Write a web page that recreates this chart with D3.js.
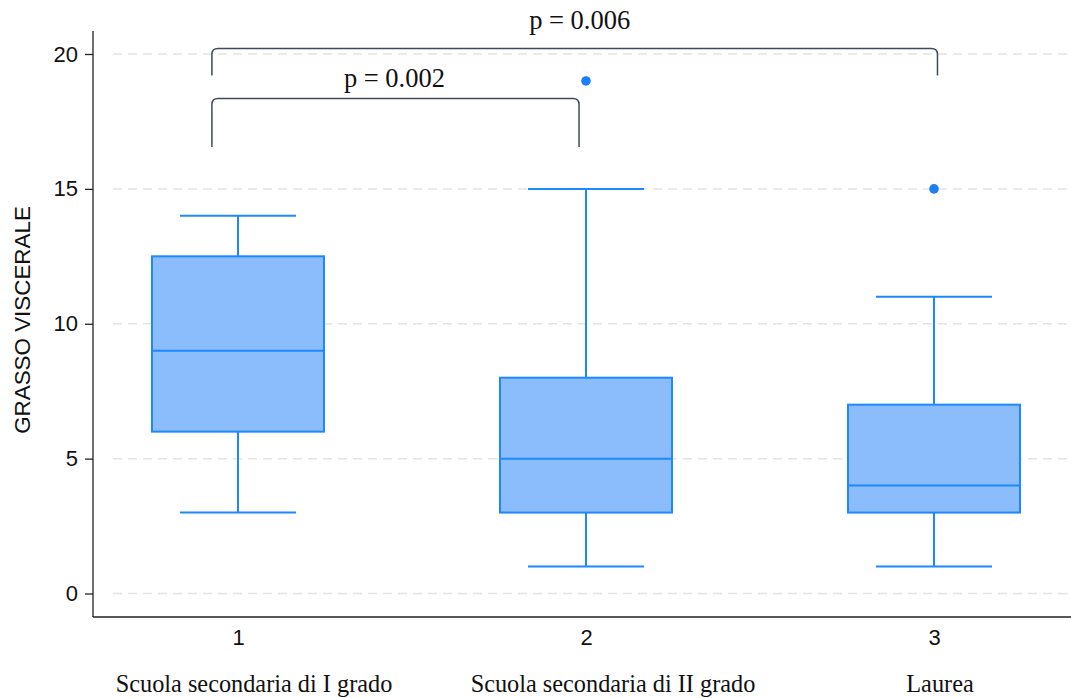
<!DOCTYPE html>
<html>
<head>
<meta charset="utf-8">
<script src="https://cdn.jsdelivr.net/npm/d3@7"></script>
<style>
  html, body { margin: 0; padding: 0; background: #ffffff; }
  svg { display: block; }
</style>
</head>
<body>
<svg id="chart" width="1071" height="698"></svg>
<script>
// Visceral fat by education level
const categories = ["1", "2", "3"];
const categoryNames = ["Scuola secondaria di I grado", "Scuola secondaria di II grado", "Laurea"];
const whiskerLow = [3, 1, 1];
const q1 = [6, 3, 3];
const median = [9, 5, 4];
const q3 = [12.5, 8, 7];
const whiskerHigh = [14, 15, 11];
const outliers = [[], [19], [15]];
const yTicks = [0, 5, 10, 15, 20];

// significance brackets: [x start, x end, leg bottom, top] in data units
const bracketSpans = [[0.925, 1.98, 16.55, 18.35], [0.925, 3.01, 19.2, 20.2]];
const pLabels = ["p = 0.002", "p = 0.006"];

const W = 1071, H = 698;
const svg = d3.select("#chart");

const x = d3.scaleLinear().domain([1, 3]).range([238, 934]);
const y = d3.scaleLinear().domain([0, 20]).range([593.5, 54]);

const axisLeftX = 93, axisBottomY = 617;
const boxHalf = 86, capHalf = 58;
const stroke = "#1e88ff", fill = "#8bbdfc";
const sans = "'Liberation Sans', Arial, Helvetica, sans-serif";
const serif = "'Liberation Serif', 'Times New Roman', serif";

// gridlines
svg.append("g")
  .selectAll("line")
  .data(yTicks)
  .join("line")
  .attr("x1", 113).attr("x2", W)
  .attr("y1", d => y(d)).attr("y2", d => y(d))
  .attr("stroke", "#e3e3e3")
  .attr("stroke-width", 1.5)
  .attr("stroke-dasharray", "9,6");

// y axis
const yAxis = d3.axisLeft(y).tickValues(yTicks).tickSize(8).tickPadding(7);
const gy = svg.append("g").attr("transform", `translate(${axisLeftX},0)`).call(yAxis);
gy.select(".domain").attr("d", `M0,31V${axisBottomY}`).attr("stroke", "#222").attr("stroke-width", 1.3);
gy.selectAll(".tick line").attr("stroke", "#222").attr("stroke-width", 1.3);
gy.selectAll(".tick text")
  .attr("font-family", sans)
  .attr("font-size", 22).attr("fill", "#111");

// x axis
const xAxis = d3.axisBottom(x).tickValues([1, 2, 3]).tickFormat((d, i) => categories[i]).tickSize(0).tickPadding(12);
const gx = svg.append("g").attr("transform", `translate(0,${axisBottomY})`).call(xAxis);
gx.select(".domain").attr("d", `M${axisLeftX},0H${W}`).attr("stroke", "#222").attr("stroke-width", 1.3);
gx.selectAll(".tick text")
  .attr("font-family", sans)
  .attr("font-size", 22).attr("fill", "#111");

// category names, nudged right of each tick
const nameNudge = [16, 27, 6];
svg.append("g")
  .selectAll("text")
  .data(categoryNames)
  .join("text")
  .attr("x", (d, i) => x(i + 1) + nameNudge[i])
  .attr("y", 692)
  .attr("text-anchor", "middle")
  .attr("font-family", serif)
  .attr("font-size", 24.3)
  .attr("fill", "#111")
  .text(d => d);

// y axis title
svg.append("text")
  .attr("transform", `translate(30,320) rotate(-90)`)
  .attr("text-anchor", "middle")
  .attr("font-family", sans)
  .attr("font-size", 22.4)
  .attr("fill", "#111")
  .text("GRASSO VISCERALE");

// boxes
const boxes = svg.append("g").selectAll("g")
  .data(categories.map((c, i) => ({ i, pos: i + 1 })))
  .join("g");

boxes.append("line")
  .attr("x1", d => x(d.pos)).attr("x2", d => x(d.pos))
  .attr("y1", d => y(whiskerHigh[d.i])).attr("y2", d => y(q3[d.i]))
  .attr("stroke", stroke).attr("stroke-width", 2);
boxes.append("line")
  .attr("x1", d => x(d.pos)).attr("x2", d => x(d.pos))
  .attr("y1", d => y(q1[d.i])).attr("y2", d => y(whiskerLow[d.i]))
  .attr("stroke", stroke).attr("stroke-width", 2);
boxes.append("line")
  .attr("x1", d => x(d.pos) - capHalf).attr("x2", d => x(d.pos) + capHalf)
  .attr("y1", d => y(whiskerHigh[d.i])).attr("y2", d => y(whiskerHigh[d.i]))
  .attr("stroke", stroke).attr("stroke-width", 2);
boxes.append("line")
  .attr("x1", d => x(d.pos) - capHalf).attr("x2", d => x(d.pos) + capHalf)
  .attr("y1", d => y(whiskerLow[d.i])).attr("y2", d => y(whiskerLow[d.i]))
  .attr("stroke", stroke).attr("stroke-width", 2);
boxes.append("rect")
  .attr("x", d => x(d.pos) - boxHalf)
  .attr("width", boxHalf * 2)
  .attr("y", d => y(q3[d.i]))
  .attr("height", d => y(q1[d.i]) - y(q3[d.i]))
  .attr("fill", fill).attr("stroke", stroke).attr("stroke-width", 2);
boxes.append("line")
  .attr("x1", d => x(d.pos) - boxHalf).attr("x2", d => x(d.pos) + boxHalf)
  .attr("y1", d => y(median[d.i])).attr("y2", d => y(median[d.i]))
  .attr("stroke", stroke).attr("stroke-width", 2);
boxes.selectAll("circle")
  .data(d => outliers[d.i].map(v => ({ pos: d.pos, v })))
  .join("circle")
  .attr("cx", d => x(d.pos)).attr("cy", d => y(d.v))
  .attr("r", 4.8)
  .attr("fill", "#1a80f5");

// significance brackets with rounded top corners
const r = 6;
const labelLift = [12, 20];
const labelShift = [-1, 5];
const br = svg.append("g");
bracketSpans.forEach((s, k) => {
  const x1 = x(s[0]), x2 = x(s[1]), yb = y(s[2]), yt = y(s[3]);
  br.append("path")
    .attr("d", `M${x1},${yb}V${yt + r}Q${x1},${yt} ${x1 + r},${yt}H${x2 - r}Q${x2},${yt} ${x2},${yt + r}V${yb}`)
    .attr("fill", "none")
    .attr("stroke", "#3f4a5c")
    .attr("stroke-width", 1.5);
  br.append("text")
    .attr("x", (x1 + x2) / 2 + labelShift[k])
    .attr("y", yt - labelLift[k])
    .attr("text-anchor", "middle")
    .attr("font-family", serif)
    .attr("font-size", 26.5)
    .attr("fill", "#111")
    .text(pLabels[k]);
});
</script>
</body>
</html>
